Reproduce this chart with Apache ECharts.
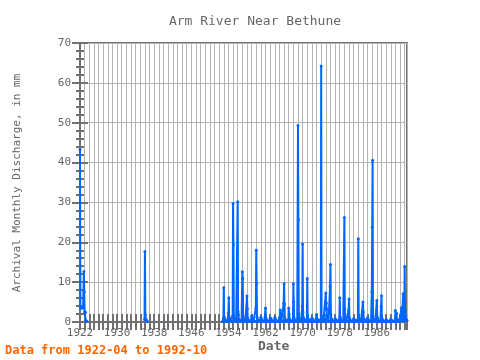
<!DOCTYPE html>
<html>
<head>
<meta charset="utf-8">
<script src="https://cdn.jsdelivr.net/npm/echarts@6/dist/echarts.min.js"></script>
<style>html,body{margin:0;padding:0;background:#fff;}#c{width:480px;height:360px;}</style>
</head>
<body>
<div id="c"></div>
<script>
// Month index 0 = 1922-04, last index 846 = 1992-10
const firstYear = 1922, firstMonth = 4;
const lastIndex = 846;
const xTickYears = [1922, 1930, 1938, 1946, 1954, 1962, 1970, 1978, 1986];

// 1922-04 .. 1923-10
const flow1922 = [43.3, 3.8, 3.6, 3.6, 3.5, 3.6, 3.5, 3.6, 3.7, 3.8, 12.7, 7.6, 2.6, 2.5, 2.4, 0.3, 0.2, 0.2, 0.2];
// 1936-03 .. 1936-10
const flow1936 = [0.6, 17.7, 1.8, 0.8, 0.4, 0.3, 0.2, 0.2];
// 1953-01 .. 1992-10, one row per year (Jan..Dec)
const flow1953 = [
 [0.1,0.1,1.0,8.6,1.2,0.8,0.5,0.4,0.3,0.2,0.2,0.1],
 [0.1,0.1,0.3,2.3,6.1,1.0,0.6,0.5,0.4,0.3,0.2,0.1],
 [0.1,0.1,1.5,29.7,19.4,1.5,0.8,0.6,0.5,0.4,0.3,0.2],
 [0.1,0.1,0.5,30.2,2.6,1.8,0.6,0.4,0.3,0.3,0.2,0.1],
 [0.1,0.1,0.6,12.6,10.9,1.5,0.7,0.4,0.3,0.3,0.2,0.1],
 [0.1,0.1,0.4,6.5,3.3,1.0,0.5,0.4,0.3,0.3,0.2,0.1],
 [0.1,0.1,0.3,1.5,0.9,0.6,0.4,0.3,0.3,0.2,0.2,0.1],
 [0.1,0.1,3.5,18.0,9.6,1.2,0.6,0.4,0.3,0.3,0.2,0.1],
 [0.1,0.1,0.4,1.2,0.8,0.5,0.3,0.2,0.2,0.2,0.1,0.1],
 [0.1,0.1,0.5,3.5,1.0,0.6,0.4,0.3,0.2,0.2,0.1,0.1],
 [0.1,0.1,0.4,1.0,0.9,0.8,0.5,0.3,0.2,0.2,0.1,0.1],
 [0.1,0.1,0.3,1.1,0.8,0.6,0.4,0.3,0.2,0.2,0.1,0.1],
 [0.1,0.1,0.3,0.8,1.0,3.0,0.9,0.5,0.3,0.2,0.1,0.1],
 [0.1,0.1,4.7,9.6,4.5,1.0,0.5,0.4,0.3,0.2,0.2,0.1],
 [0.1,0.1,0.5,3.5,2.0,0.8,0.4,0.3,0.2,0.2,0.1,0.1],
 [0.1,0.1,0.5,9.6,5.0,1.0,0.5,0.3,0.2,0.2,0.1,0.1],
 [0.1,0.1,0.6,49.3,25.7,2.0,0.8,0.5,0.4,0.3,0.2,0.1],
 [0.1,0.1,3.9,19.6,2.5,1.0,0.6,0.4,0.3,0.3,0.2,0.1],
 [0.1,0.1,0.8,10.9,1.5,0.8,0.5,0.4,0.3,0.2,0.2,0.1],
 [0.1,0.1,0.4,1.0,0.8,0.6,0.4,0.3,0.2,0.2,0.1,0.1],
 [0.1,0.1,0.5,1.9,0.9,0.6,0.4,0.3,0.2,0.2,0.1,0.1],
 [0.1,0.1,0.6,64.2,1.5,0.9,0.6,0.4,0.3,0.3,0.2,0.1],
 [0.1,0.1,0.6,7.3,4.7,3.2,0.8,0.5,0.3,0.3,0.2,0.1],
 [0.1,0.1,8.9,14.4,2.0,0.9,0.5,0.4,0.3,0.2,0.2,0.1],
 [0.1,0.1,0.3,0.8,0.6,0.5,0.3,0.2,0.2,0.2,0.1,0.1],
 [0.1,0.1,0.6,6.1,1.2,0.7,0.4,0.3,0.2,0.2,0.1,0.1],
 [0.1,0.1,0.6,26.2,3.3,1.0,0.5,0.4,0.3,0.2,0.2,0.1],
 [0.1,0.1,3.0,5.8,1.0,0.6,0.4,0.3,0.2,0.2,0.1,0.1],
 [0.1,0.1,0.4,0.8,0.6,0.5,0.3,0.2,0.2,0.2,0.1,0.1],
 [0.1,0.1,0.7,20.9,1.5,0.8,0.5,0.4,0.3,0.2,0.2,0.1],
 [0.1,0.1,0.6,5.0,2.5,0.8,0.5,0.3,0.2,0.2,0.1,0.1],
 [0.1,0.1,0.4,1.0,0.7,0.5,0.3,0.2,0.2,0.2,0.1,0.1],
 [0.1,0.1,7.5,23.8,40.6,1.5,0.7,0.4,0.3,0.3,0.2,0.1],
 [0.1,0.1,0.6,5.4,1.2,0.7,0.4,0.3,0.2,0.2,0.1,0.1],
 [0.1,0.1,3.9,6.6,1.0,0.6,0.4,0.3,0.2,0.2,0.1,0.1],
 [0.1,0.1,0.3,0.6,0.4,0.3,0.2,0.2,0.1,0.1,0.1,0.1],
 [0.1,0.1,0.3,0.7,0.5,0.4,0.3,0.2,0.1,0.1,0.1,0.1],
 [0.1,0.1,0.5,2.9,0.8,0.6,2.2,0.5,0.3,0.2,0.1,0.1],
 [0.1,0.1,0.5,1.0,0.7,0.5,0.6,3.6,0.5,0.4,0.3,7.1],
 [0.2,0.3,1.0,13.9,3.0,1.5,0.8,0.5,0.4,0.4]
];

function idxOf(y, m) { return (y - firstYear) * 12 + (m - firstMonth); }

const values = new Array(lastIndex + 1).fill(null);
flow1922.forEach((v, k) => { values[idxOf(1922, 4) + k] = v; });
flow1936.forEach((v, k) => { values[idxOf(1936, 3) + k] = v; });
flow1953.forEach((row, r) => row.forEach((v, k) => { values[idxOf(1953 + r, 1 + k)] = v; }));
const seriesData = values.map((v, i) => [i, v]);

const gray = '#707070';
const font = 'DejaVu Sans Mono';
const tickLabels = {};
xTickYears.forEach(y => { tickLabels[(y - firstYear) * 12] = String(y); });

const chart = echarts.init(document.getElementById('c'), null, {renderer: 'canvas'});
chart.setOption({
  animation: false,
  backgroundColor: '#ffffff',
  title: {
    text: 'Arm River Near Bethune', left: 250, top: 10, textAlign: 'center',
    textStyle: {fontFamily: font, fontSize: 13, fontWeight: 'normal', color: '#666666'}
  },
  grid: {left: 80, right: 73, top: 43, bottom: 38, show: true, borderColor: gray, borderWidth: 2, backgroundColor: 'transparent'},
  xAxis: [{
    type: 'value', min: 0, max: lastIndex, interval: 12, position: 'bottom',
    axisLine: {show: true, lineStyle: {color: gray, width: 2}},
    axisTick: {show: true, inside: true, length: 8, lineStyle: {color: gray, width: 2}},
    axisLabel: {formatter: v => tickLabels[v] || '', color: '#666666', fontFamily: font, fontSize: 11, margin: 6, showMaxLabel: false},
    splitLine: {show: true, lineStyle: {color: '#b4b4b4', width: 1}}
  }, {
    type: 'value', min: 0, max: lastIndex, interval: 12, position: 'top',
    axisLine: {show: true, lineStyle: {color: gray, width: 2}},
    axisTick: {show: true, inside: true, length: 8, lineStyle: {color: gray, width: 2}},
    axisLabel: {show: false}, splitLine: {show: false}
  }],
  yAxis: [{
    type: 'value', min: 0, max: 70, interval: 10, position: 'left',
    axisLine: {show: true, lineStyle: {color: gray, width: 2}},
    axisTick: {show: true, inside: true, length: 8, lineStyle: {color: gray, width: 2}},
    minorTick: {show: true, splitNumber: 5, length: 4, lineStyle: {color: gray, width: 2}},
    axisLabel: {color: '#666666', fontFamily: font, fontSize: 11, margin: 9},
    splitLine: {show: true, lineStyle: {color: '#b4b4b4', width: 1}}
  }, {
    type: 'value', min: 0, max: 70, interval: 10, position: 'right',
    axisLine: {show: true, lineStyle: {color: gray, width: 2}},
    axisTick: {show: true, inside: true, length: 8, lineStyle: {color: gray, width: 2}},
    minorTick: {show: true, splitNumber: 5, length: 4, lineStyle: {color: gray, width: 2}},
    axisLabel: {show: false}, splitLine: {show: false}
  }],
  graphic: [
    {type: 'text', left: 274 - 16, top: 340, style: {text: 'Date', fontFamily: font, fontSize: 13, fontWeight: 'bold', fill: '#666666'}},
    {type: 'text', x: 17, y: 183, rotation: Math.PI / 2, style: {text: 'Archival Monthly Discharge, in mm', fontFamily: font, fontSize: 11, fill: '#666666', align: 'center', verticalAlign: 'middle'}},
    {type: 'text', left: 5, top: 345, style: {text: 'Data from 1922-04 to 1992-10', fontFamily: font, fontSize: 12, fontWeight: 'bold', fill: '#ff6600'}}
  ],
  series: [{
    type: 'line', xAxisIndex: 0, yAxisIndex: 0, data: seriesData,
    connectNulls: false, showSymbol: true, showAllSymbol: true, symbol: 'circle', symbolSize: 3,
    lineStyle: {width: 2, color: '#0066ff'}, itemStyle: {color: '#0066ff'}, z: 3
  }]
});
</script>
</body>
</html>
